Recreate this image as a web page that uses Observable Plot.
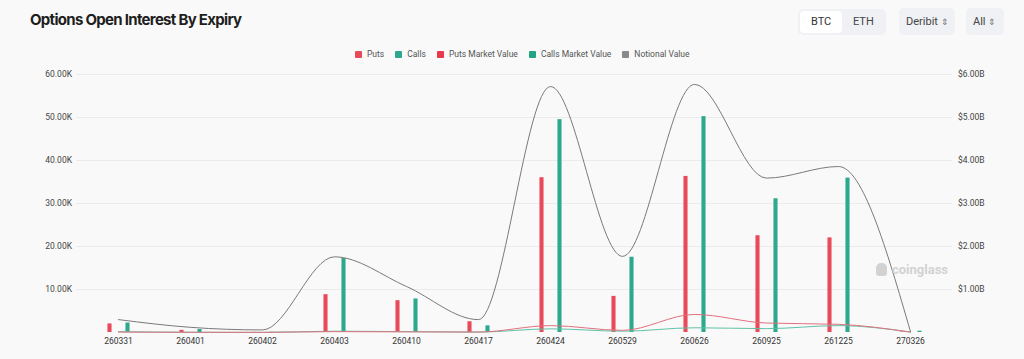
<!DOCTYPE html>
<html><head><meta charset="utf-8">
<script src="https://cdn.jsdelivr.net/npm/d3@7"></script>
<script src="https://cdn.jsdelivr.net/npm/@observablehq/plot@0.6"></script>
<style>
html,body{margin:0;padding:0;background:#f9f9f9;}
body{width:1024px;height:359px;position:relative;overflow:hidden;font-family:Inter,"Noto Sans",sans-serif;}
#header{position:relative;height:64px;}
#title{position:absolute;left:30px;top:10px;font-size:15px;font-weight:700;color:#1e1e1e;letter-spacing:-0.7px;white-space:nowrap;}
.seg{position:absolute;left:798px;top:9px;width:88px;height:26px;background:#eff1f4;border-radius:5px;}
.seg .on{position:absolute;left:2px;top:2px;width:42px;height:22px;background:#fff;border-radius:4px;}
.btxt{position:absolute;font-size:11px;color:#333;font-family:Roboto,sans-serif;top:15px;}
.box{position:absolute;top:8px;height:27px;background:#eff1f4;border-radius:5px;}
#legend{position:absolute;left:355px;top:49px;display:flex;align-items:center;font-family:Roboto,sans-serif;font-size:8.5px;color:#555;white-space:nowrap;}
#legend .it{display:flex;align-items:center;margin-right:11px;}
#legend .sw{width:7px;height:7px;margin-right:5px;border-radius:1px;}
#wm{position:absolute;left:876px;top:262px;font-family:Roboto,sans-serif;font-weight:700;font-size:13px;color:#d2d2d2;display:flex;align-items:center;}
#wm .logo{width:11px;height:13px;background:#d2d2d2;border-radius:5px 5px 3px 3px;margin-right:5px;}
#chart{position:absolute;left:0;top:64px;}
</style>
</head><body>
<div id="header">
  <div id="title">Options Open Interest By Expiry</div>
  <div class="seg"><div class="on"></div></div>
  <div class="btxt" style="left:811px">BTC</div>
  <div class="btxt" style="left:853px;color:#444">ETH</div>
  <div class="box" style="left:899px;width:56px"></div>
  <div class="btxt" style="left:906px;color:#444">Deribit <span style="font-size:9px;color:#777">&#8661;</span></div>
  <div class="box" style="left:966px;width:38px"></div>
  <div class="btxt" style="left:973px;color:#444">All <span style="font-size:9px;color:#777">&#8661;</span></div>
  <div id="legend"></div>
</div>
<div id="chart"></div>
<div id="wm"><div class="logo"></div>coinglass</div>
<script>
// ---- data ----
const categories = ["260331","260401","260402","260403","260410","260417","260424","260529","260626","260925","261225","270326"];
// open interest, thousands of BTC
const puts  = [2.0, 0.5, 0.03, 8.8, 7.4, 2.5, 36.0, 8.4, 36.3, 22.5, 22.0, 0.1];
const calls = [2.2, 0.7, 0.05, 17.2, 7.8, 1.55, 49.5, 17.5, 50.2, 31.1, 35.9, 0.3];
// values, billions USD
const putsMarketValue  = [0.01, 0.005, 0.003, 0.02, 0.015, 0.01, 0.16, 0.05, 0.42, 0.22, 0.19, 0.01];
const callsMarketValue = [0.02, 0.005, 0.003, 0.03, 0.02, 0.01, 0.085, 0.03, 0.11, 0.09, 0.16, 0.01];
const notionalValue    = [0.30, 0.12, 0.06, 1.76, 1.07, 0.30, 5.72, 1.77, 5.77, 3.59, 3.86, 0.02];
const leftTicks  = ["10.00K","20.00K","30.00K","40.00K","50.00K","60.00K"];
const rightTicks = ["$1.00B","$2.00B","$3.00B","$4.00B","$5.00B","$6.00B"];
const legendItems = [["Puts","#e94a5a"],["Calls","#2ea88c"],["Puts Market Value","#e8384c"],["Calls Market Value","#22a582"],["Notional Value","#8a8a8a"]];

// legend
const lg = document.getElementById("legend");
legendItems.forEach(([t,c]) => {
  const d = document.createElement("div"); d.className = "it";
  d.innerHTML = `<div class="sw" style="background:${c}"></div><span>${t}</span>`;
  lg.appendChild(d);
});

const K = 1000, B = 10000; // 1B maps to 10K on the shared y scale
const rows = categories.map((c,i) => ({
  cat: c, puts: puts[i]*K, calls: calls[i]*K,
  pmv: putsMarketValue[i]*B, cmv: callsMarketValue[i]*B, nv: notionalValue[i]*B
}));
const tickVals = leftTicks.map((_,i) => (i+1)*10000);

const W = 1024, ml = 76.5, mr = 72.5;
const half = (W - ml - mr) / categories.length / 2;

const chart = Plot.plot({
  width: W, height: 295,
  marginTop: 10, marginBottom: 27, marginLeft: ml, marginRight: mr,
  style: {background: "transparent", fontFamily: "Roboto, sans-serif", fontSize: "8.5px", color: "#444"},
  x: {type: "band", domain: categories, padding: 0, axis: null, label: null},
  y: {domain: [0, 60000], axis: null, label: null},
  marks: [
    Plot.gridY(tickVals, {stroke: "#ebebeb", strokeOpacity: 1}),
    Plot.barY(rows, {x: "cat", y: "puts", fill: "#e94a5a", insetLeft: half - 11, insetRight: half + 6}),
    Plot.barY(rows, {x: "cat", y: "calls", fill: "#2ea88c", insetLeft: half + 7, insetRight: half - 12}),
    Plot.line(rows, {x: "cat", y: "cmv", stroke: "#5fc2a6", strokeWidth: 1, curve: "monotone-x"}),
    Plot.line(rows, {x: "cat", y: "pmv", stroke: "#e2707e", strokeWidth: 1, curve: "monotone-x"}),
    Plot.line(rows, {x: "cat", y: "nv", stroke: "#7a7a7a", strokeWidth: 1, curve: "monotone-x"}),
    Plot.axisX({tickSize: 0, tickPadding: 5, fill: "#333", fontSize: 8.5, label: null}),
    Plot.axisY(tickVals, {anchor: "left", tickSize: 0, tickPadding: 5, tickFormat: (d,i) => leftTicks[i], fill: "#444", label: null}),
    Plot.axisY(tickVals, {anchor: "right", tickSize: 0, tickPadding: 6, tickFormat: (d,i) => rightTicks[i], fill: "#444", label: null})
  ]
});
document.getElementById("chart").appendChild(chart);
</script>
</body></html>
